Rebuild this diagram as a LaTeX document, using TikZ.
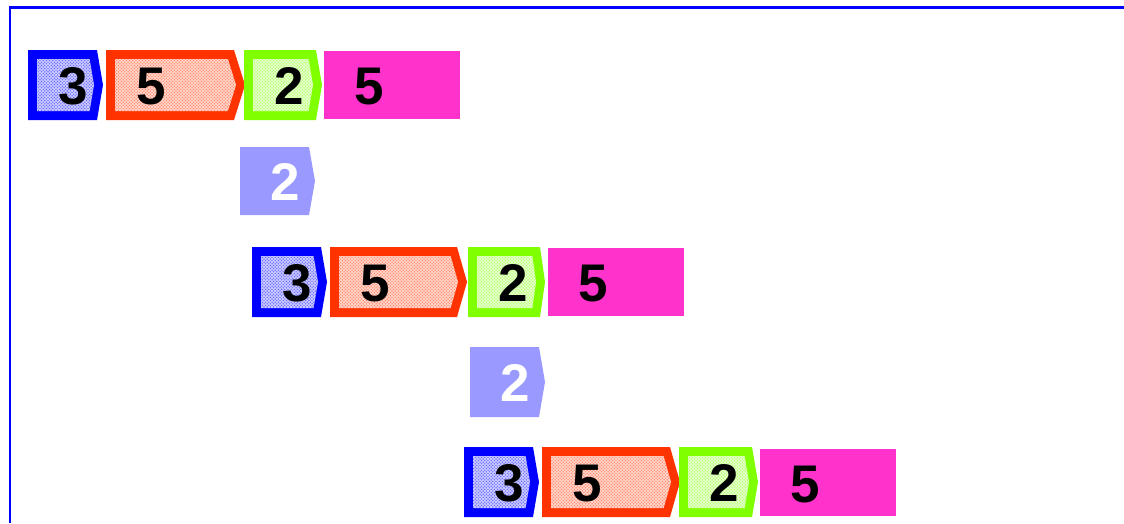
\documentclass[tikz,border=0pt]{standalone}
\usepackage{fontspec}
\setmainfont{Liberation Sans}
\usetikzlibrary{patterns}
\definecolor{cblue}{HTML}{0000FF}
\definecolor{cred}{HTML}{FF3300}
\definecolor{cgreen}{HTML}{80FF00}
\definecolor{cmag}{HTML}{FF33CC}
\definecolor{cperi}{HTML}{9999FF}
\pgfdeclarepatternformonly{mydots}{\pgfqpoint{-1pt}{-1pt}}{\pgfqpoint{4pt}{4pt}}{\pgfqpoint{3.2pt}{3.2pt}}{%
  \pgfpathcircle{\pgfqpoint{0pt}{0pt}}{0.8pt}%
  \pgfpathcircle{\pgfqpoint{1.6pt}{1.6pt}}{0.8pt}%
  \pgfusepath{fill}%
}
\tikzset{
  digit/.style={font=\fontsize{53}{53}\selectfont\bfseries, inner sep=0pt, anchor=base west},
  frameline/.style={draw=cblue, line width=2.5pt},
}
% name, x, y, w, h, d, colour, text
\newcommand\chevbox[8]{%
  \path[fill=#7] (#2,#3) -- (#2+#4-#6,#3) -- (#2+#4,#3+#5/2) -- (#2+#4-#6,#3+#5) -- (#2,#3+#5) -- cycle;
  \path[fill=#7!18, postaction={pattern=mydots, pattern color=#7!60}]
    (#2+9,#3+9) -- (#2+#4-9-#6*0.74,#3+9) -- (#2+#4-9,#3+#5/2) -- (#2+#4-9-#6*0.74,#3+#5-9) -- (#2+9,#3+#5-9) -- cycle;
  \node[digit] (#1) at (#2+30,#3+54) {#8};
}
% name, x, y, w, h, d, text
\newcommand\peribox[7]{%
  \path[fill=cperi] (#2,#3) -- (#2+#4-#6,#3) -- (#2+#4,#3+#5/2) -- (#2+#4-#6,#3+#5) -- (#2,#3+#5) -- cycle;
  \node[digit, text=white] (#1) at (#2+30,#3+#5/2+19) {#7};
}
% name, x, y, w, h, text
\newcommand\magbox[6]{%
  \path[fill=cmag] (#2,#3) rectangle (#2+#4,#3+#5);
  \node[digit] (#1) at (#2+30,#3+53) {#6};
}
\begin{document}
\begin{tikzpicture}[x=1pt, y=-1pt]
\useasboundingbox (0,0) rectangle (1124,523);
\draw[frameline] (10,523) -- (10,7.5) -- (1124,7.5);
% row 1
\chevbox{a3}{28}{50}{75}{70}{6}{cblue}{3}
\chevbox{a5}{106}{50}{139}{70}{11}{cred}{5}
\chevbox{a2}{244}{50}{78}{70}{6}{cgreen}{2}
\magbox{am}{324}{51}{136}{68}{5}
% first lone 2
\peribox{p1}{240}{147}{75}{68}{6}{2}
% row 2
\chevbox{b3}{252}{247}{75}{70}{6}{cblue}{3}
\chevbox{b5}{330}{247}{137}{70}{10}{cred}{5}
\chevbox{b2}{468}{247}{77}{70}{5}{cgreen}{2}
\magbox{bm}{548}{248}{136}{68}{5}
% second lone 2
\peribox{p2}{470}{347}{75}{70}{6}{2}
% row 3
\chevbox{c3}{464}{447}{75}{70}{6}{cblue}{3}
\chevbox{c5}{542}{447}{138}{70}{10}{cred}{5}
\chevbox{c2}{679}{447}{79}{70}{6}{cgreen}{2}
\magbox{cm}{760}{449}{136}{67}{5}
\end{tikzpicture}
\end{document}
